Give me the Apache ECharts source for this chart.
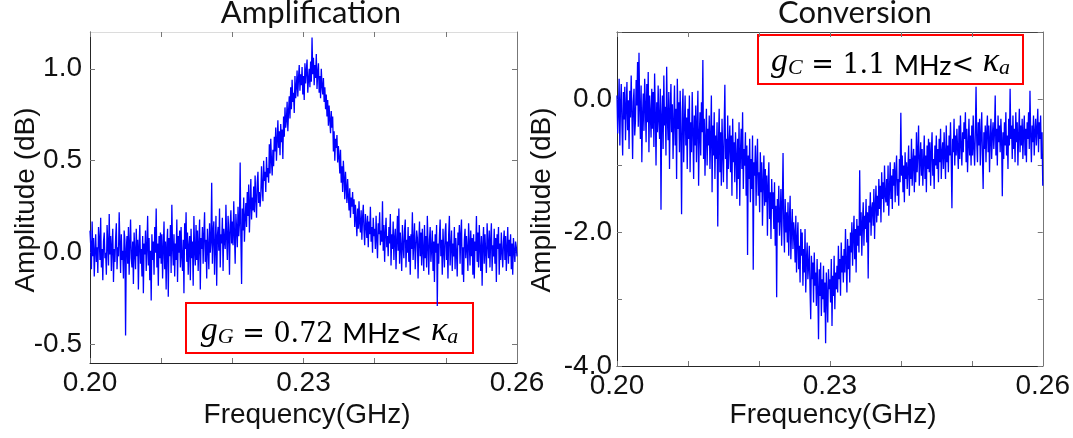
<!DOCTYPE html>
<html>
<head>
<meta charset="utf-8">
<title>Amplification and Conversion spectra</title>
<script src="https://cdn.jsdelivr.net/npm/echarts@6/dist/echarts.min.js"></script>
<style>
  html, body { margin: 0; padding: 0; background: #ffffff; }
  #chart { width: 1073px; height: 438px; }
</style>
</head>
<body>
<div id="chart"></div>
<script>
// Frequency sampling grid (GHz)
const FREQ_START = 0.200;
const FREQ_STEP = 0.0001;

// Tick labels
const freqTickLabels = [0.20, 0.23, 0.26];
const ampTickLabels = [-0.5, 0.0, 0.5, 1.0];
const convTickLabels = [-4, -2, 0];

// Amplification response (dB), ten samples per MHz
const amplification = [
  0.12, 0.04, -0.09, 0.17, -0.02, 0.08, -0.13, 0.01, 0.1, -0.05,
  0.03, -0.11, 0.14, 0.07, -0.04, 0.19, -0.08, 0.02, -0.15, 0.06,
  0.11, -0.03, 0.0, -0.12, 0.15, 0.05, -0.07, 0.21, -0.01, 0.09,
  -0.1, 0.04, 0.13, -0.16, 0.02, -0.05, 0.08, 0.16, -0.09, 0.03,
  -0.02, 0.22, 0.06, -0.11, 0.1, -0.04, 0.01, -0.14, 0.12, 0.07,
  -0.45, 0.02, 0.09, -0.06, 0.14, -0.12, 0.05, 0.18, -0.03, -0.08,
  0.06, -0.17, 0.11, 0.0, -0.09, 0.13, -0.02, 0.07, -0.2, 0.04,
  0.15, -0.06, 0.02, -0.13, 0.09, -0.22, 0.05, -0.01, 0.12, -0.1,
  0.03, 0.2, -0.07, 0.08, -0.15, 0.01, -0.26, 0.1, -0.04, 0.06,
  -0.12, 0.14, 0.0, 0.24, -0.08, 0.05, -0.18, 0.09, -0.03, 0.11,
  -0.06, 0.1, -0.14, 0.02, 0.17, -0.09, 0.06, -0.2, 0.04, 0.13,
  -0.24, 0.08, -0.02, 0.15, -0.11, 0.26, 0.03, -0.07, 0.1, -0.13,
  0.05, -0.04, 0.18, -0.16, 0.09, 0.0, 0.12, -0.08, 0.14, -0.02,
  -0.1, 0.07, -0.22, 0.16, 0.02, 0.22, -0.05, 0.11, -0.12, 0.04,
  0.09, -0.15, 0.13, -0.03, 0.06, -0.18, 0.2, 0.01, -0.07, 0.15,
  -0.04, 0.12, -0.1, 0.05, 0.18, -0.2, 0.08, 0.02, 0.14, -0.06,
  0.1, 0.22, -0.05, 0.07, -0.14, 0.13, 0.03, -0.09, 0.16, 0.0,
  0.06, 0.38, -0.06, 0.11, 0.17, -0.12, 0.04, 0.2, -0.18, 0.09,
  0.14, 0.01, 0.24, -0.08, 0.1, 0.05, 0.19, -0.1, 0.13, 0.07,
  0.02, 0.26, 0.08, -0.04, 0.2, 0.11, -0.12, 0.15, 0.23, 0.05,
  0.17, 0.04, 0.28, 0.1, -0.06, 0.21, 0.13, 0.03, 0.25, 0.09,
  0.16, 0.49, 0.08, -0.17, 0.24, 0.12, 0.3, 0.06, 0.19, 0.27,
  0.14, 0.33, 0.2, 0.37, 0.11, 0.26, 0.4, 0.18, 0.3, 0.23,
  0.36, 0.22, 0.42, 0.29, 0.19, 0.38, 0.44, 0.27, 0.33, 0.25,
  0.31, 0.47, 0.36, 0.28, 0.5, 0.39, 0.44, 0.33, 0.52, 0.41,
  0.46, 0.38, 0.59, 0.43, 0.62, 0.5, 0.42, 0.56, 0.47, 0.63,
  0.55, 0.68, 0.5, 0.61, 0.72, 0.57, 0.66, 0.53, 0.7, 0.6,
  0.67, 0.51, 0.74, 0.63, 0.79, 0.68, 0.72, 0.82, 0.66, 0.77,
  0.85, 0.73, 0.9, 0.78, 0.94, 0.82, 0.87, 0.76, 0.96, 0.84,
  0.9, 0.99, 0.85, 0.95, 1.02, 0.88, 0.97, 0.91, 1.01, 0.86,
  0.96, 0.83, 1.03, 0.92, 0.99, 1.05, 0.87, 0.94, 1.0, 0.9,
  1.04, 0.93, 1.17, 0.97, 1.06, 0.91, 1.02, 0.95, 1.08, 0.89,
  0.98, 1.03, 0.87, 0.96, 0.84, 1.0, 0.91, 0.86, 0.95, 0.82,
  0.9, 0.78, 0.86, 0.74, 0.83, 0.69, 0.8, 0.72, 0.65, 0.77,
  0.68, 0.74, 0.55, 0.66, 0.5, 0.62, 0.57, 0.64, 0.49, 0.58,
  0.52, 0.43, 0.56, 0.38, 0.47, 0.33, 0.5, 0.41, 0.29, 0.44,
  0.36, 0.27, 0.4, 0.31, 0.23, 0.35, 0.19, 0.3, 0.25, 0.33,
  0.21, 0.29, 0.14, 0.26, 0.18, 0.09, 0.24, 0.13, 0.28, 0.16,
  0.11, 0.23, 0.07, 0.19, 0.26, 0.12, 0.04, 0.21, 0.15, 0.08,
  0.2, 0.03, 0.17, 0.1, 0.25, 0.06, 0.14, 0.0, 0.19, 0.09,
  0.13, 0.02, 0.2, 0.07, -0.03, 0.16, 0.1, 0.22, 0.04, 0.12,
  0.06, 0.28, 0.01, 0.15, -0.05, 0.11, 0.19, 0.03, 0.09, -0.02,
  0.14, 0.05, 0.21, -0.07, 0.1, 0.02, 0.17, -0.04, 0.08, 0.13,
  -0.09, 0.06, 0.2, 0.01, 0.24, -0.06, 0.11, 0.03, -0.1, 0.15,
  0.04, -0.03, 0.12, 0.18, -0.08, 0.07, 0.0, 0.14, -0.05, 0.09,
  -0.12, 0.1, 0.02, 0.22, -0.04, 0.06, 0.16, -0.09, 0.03, 0.12,
  0.08, -0.14, 0.05, 0.17, -0.02, 0.11, -0.07, 0.13, 0.01, -0.1,
  0.15, -0.03, 0.09, -0.08, 0.2, 0.04, -0.12, 0.07, 0.14, -0.05,
  0.02, 0.12, -0.1, 0.06, -0.16, 0.1, 0.0, 0.15, -0.29, 0.05,
  -0.06, 0.09, 0.18, -0.02, 0.07, -0.12, 0.13, 0.01, -0.08, 0.11,
  0.16, -0.04, 0.06, -0.14, 0.1, 0.2, -0.07, 0.03, 0.12, -0.1,
  0.05, -0.02, 0.14, -0.09, 0.08, 0.0, -0.13, 0.11, 0.04, 0.15,
  -0.06, 0.1, 0.18, -0.12, 0.03, -0.16, 0.07, 0.13, -0.03, 0.09,
  0.02, -0.1, 0.16, 0.05, -0.07, 0.12, -0.02, 0.08, -0.12, 0.1,
  -0.14, 0.06, 0.01, 0.2, -0.05, 0.11, -0.08, 0.15, 0.03, -0.1,
  0.09, -0.18, 0.04, 0.14, -0.06, 0.1, 0.0, -0.11, 0.16, 0.05,
  -0.03, 0.12, -0.08, 0.07, 0.16, -0.1, 0.04, -0.02, 0.13, -0.06,
  0.08, -0.16, 0.1, 0.02, 0.14, -0.12, 0.05, -0.04, 0.11, 0.0,
  -0.08, 0.06, 0.12, -0.04, 0.09, -0.1, 0.03, 0.14, -0.06, 0.07,
  -0.02, 0.1, -0.09, 0.05, -0.12, 0.08, 0.01, -0.05, 0.06, 0.03,
  -0.02
];

// Conversion response (dB), ten samples per MHz
const conversion = [
  0.05, -0.52, -0.18, 0.3, -0.7, -0.08, 0.22, -0.4, -0.85, 0.1,
  -0.31, 0.18, -0.62, -0.12, 0.25, -0.47, -0.02, -0.75, 0.12, -0.28,
  0.35, -0.2, -0.9, -0.05, 0.15, -0.55, -0.33, 0.28, -0.1, 0.55,
  -0.42, 0.69, -0.15, -0.6, 0.2, -0.95, -0.25, 0.08, -0.48, 0.3,
  -0.1, -0.65, 0.22, -0.35, 0.4, -0.8, 0.05, -0.22, -0.58, 0.15,
  -0.45, 0.1, -0.72, 0.38, -0.2, -1.0, -0.05, -0.5, 0.2, -0.32,
  -0.6, 0.15, -1.66, -0.25, 0.05, -0.75, 0.35, -0.4, -0.12, -0.85,
  0.48, -0.3, -0.62, 0.1, -1.05, -0.18, 0.22, -0.5, -0.08, -0.9,
  -0.35, 0.2, -0.7, -0.15, -1.2, 0.3, -0.45, -0.05, -0.8, 0.12,
  -0.55, -1.73, -0.2, 0.15, -0.95, -0.4, 0.05, -0.7, -0.28, -1.05,
  -0.15, -0.6, 0.05, -1.1, -0.35, -0.8, 0.1, -0.48, -1.2, -0.25,
  -0.7, -0.1, -0.95, -0.4, 0.12, -1.3, -0.55, -0.2, -0.85, -0.05,
  -0.5, 0.58, -0.9, -0.3, -1.15, -0.6, -0.15, -1.0, -0.45, -0.7,
  -0.25, -1.05, -0.6, 0.05, -1.4, -0.4, -0.85, -0.2, -1.2, -0.55,
  -0.9, -0.35, -1.91, -0.65, -0.15, -1.1, -0.5, -1.3, -0.3, -0.8,
  -1.25, -0.45, 0.21, -0.9, -0.6, -1.35, -0.25, -1.05, -0.7, -0.4,
  -1.1, -0.55, -1.45, -0.3, -0.95, -0.65, -1.25, -0.5, -0.85, -1.5,
  -0.6, -1.2, -0.35, -1.6, -0.8, -0.45, -1.05, -0.2, -1.35, -0.75,
  -1.0, -0.5, -1.45, -0.7, -2.34, -0.85, -1.2, -0.6, -1.55, -0.9,
  -1.35, -0.55, -2.56, -0.95, -1.15, -0.7, -1.6, -1.0, -0.6, -1.45,
  -1.1, -1.7, -0.8, -1.4, -0.95, -1.9, -1.25, -0.85, -1.6, -1.05,
  -1.55, -1.15, -2.05, -1.3, -0.95, -1.8, -1.4, -2.1, -1.2, -1.65,
  -1.4, -1.95, -1.25, -2.2, -1.6, -2.97, -1.5, -1.85, -1.3, -2.05,
  -1.75, -1.35, -2.2, -1.6, -0.81, -1.9, -2.3, -1.5, -2.0, -1.7,
  -2.15, -1.55, -2.35, -1.8, -1.45, -2.4, -1.95, -1.65, -2.25, -1.85,
  -2.0, -2.45, -1.75, -2.6, -2.1, -1.85, -2.55, -2.2, -2.75, -1.95,
  -2.35, -2.0, -2.8, -2.25, -2.6, -1.95, -2.9, -2.4, -2.15, -2.7,
  -2.5, -2.2, -2.85, -3.3, -2.35, -2.7, -2.45, -3.05, -2.3, -2.8,
  -2.6, -3.1, -2.4, -2.85, -3.6, -2.55, -2.95, -2.45, -3.25, -2.7,
  -3.0, -2.5, -3.2, -2.75, -3.66, -2.6, -2.95, -3.35, -2.55, -2.85,
  -2.7, -3.05, -2.4, -3.4, -2.65, -2.95, -2.35, -3.15, -2.6, -2.85,
  -2.5, -2.9, -2.2, -2.7, -2.4, -2.95, -2.15, -2.6, -2.35, -2.75,
  -2.25, -2.6, -1.95, -2.45, -2.9, -2.1, -2.55, -2.2, -2.75, -2.0,
  -2.3, -1.85, -2.5, -2.05, -1.75, -2.4, -1.95, -2.6, -1.8, -2.2,
  -1.9, -2.3, -1.07, -2.05, -1.7, -2.35, -1.85, -1.55, -2.2, -1.75,
  -1.95, -1.5, -2.15, -1.7, -2.69, -1.6, -1.85, -1.4, -2.05, -1.65,
  -1.55, -1.9, -1.35, -2.1, -1.6, -1.3, -1.85, -1.45, -1.75, -1.2,
  -1.65, -1.3, -1.85, -1.1, -1.5, -1.25, -1.7, -1.0, -1.45, -1.55,
  -1.2, -1.6, -1.0, -1.75, -1.35, -0.95, -1.5, -1.15, -1.65, -1.05,
  -1.3, -0.95, -1.55, -1.1, -0.85, -1.45, -1.2, -1.6, -0.9, -1.25,
  -0.21, -1.15, -0.85, -1.4, -1.0, -1.55, -0.8, -1.2, -0.95, -1.35,
  -1.05, -0.7, -1.45, -0.9, -1.2, -0.6, -1.3, -0.95, -0.75, -1.4,
  -0.85, -1.25, -0.5, -1.1, -0.8, -0.4, -1.3, -0.95, -0.65, -1.15,
  -0.75, -1.3, -0.95, -0.55, -1.2, -0.85, -1.4, -0.7, -1.05, -0.6,
  -1.1, -0.65, -1.3, -0.8, -0.5, -1.15, -0.9, -1.35, -0.7, -1.0,
  -0.55, -1.05, -0.75, -1.25, -0.6, -0.95, -0.45, -1.2, -0.8, -0.65,
  -1.05, -0.5, -0.85, -1.2, -0.4, -0.95, -0.7, -1.1, -0.55, -0.85,
  -0.35, -0.9, -1.64, -0.6, -0.8, -0.3, -1.0, -0.55, -0.85, -0.45,
  -0.75, -1.05, -0.4, -0.9, -0.25, -0.7, -1.0, -0.5, -0.8, -0.35,
  -0.6, -0.2, -0.95, -0.45, -1.1, -0.7, -0.3, -0.85, -0.55, -1.0,
  -0.4, -0.85, -0.25, -0.75, -1.0, -0.5, 0.18, -0.65, -0.95, -0.35,
  -0.7, -0.3, -1.0, -0.55, -0.2, -0.85, -1.35, -0.5, -0.75, -0.4,
  -0.95, -0.5, -0.25, -0.8, -0.4, -1.1, -0.6, -0.3, -0.9, -0.55,
  -0.35, -0.75, -0.5, 0.05, -0.85, -0.45, -1.0, -0.25, -0.65, -0.4,
  -0.8, -0.3, -0.6, -1.46, -0.5, -0.9, -0.35, -0.7, -0.2, -0.85,
  -0.55, -1.05, -0.3, -0.7, 0.15, -0.6, -0.4, -0.9, -0.25, -0.75,
  -0.45, -0.95, -0.2, -0.65, -0.35, -1.0, -0.55, -0.15, -0.8, -0.4,
  -0.7, -0.3, -0.9, -0.5, -0.25, -0.85, -0.45, -0.95, -0.35, -0.6,
  -0.2, -0.75, 0.12, -0.55, -0.95, -0.4, -0.65, -0.25, -0.85, -0.5,
  -0.3, -0.7, -0.45, -0.15, -0.8, -0.35, -0.6, -0.25, -0.9, -0.5,
  -1.3
];

const toPairs = values => values.map((v, i) => [+(FREQ_START + i * FREQ_STEP).toFixed(5), v]);

const TICK_FONT = "'Liberation Sans', Arial, sans-serif";
const near = (a, b) => Math.abs(a - b) < 1e-6;

function freqAxes(gridIndex, topLineColor) {
  const common = {
    type: 'value', gridIndex, min: 0.20, max: 0.26, interval: 0.01,
    splitLine: { show: false },
    axisTick: { show: true, inside: true, length: 5, lineStyle: { color: '#777', width: 1 } }
  };
  return [
    Object.assign({}, common, {
      position: 'bottom',
      axisLine: { show: true, onZero: false, lineStyle: { color: '#262626', width: 1 } },
      axisLabel: {
        show: true, margin: 6, color: '#111', fontSize: 28, fontFamily: TICK_FONT,
        showMinLabel: true, showMaxLabel: true, hideOverlap: false,
        formatter: v => freqTickLabels.some(t => near(t, v)) ? v.toFixed(2) : ''
      }
    }),
    Object.assign({}, common, {
      position: 'top',
      axisLine: { show: true, onZero: false, lineStyle: { color: topLineColor, width: 1 } },
      axisLabel: { show: false }
    })
  ];
}

const chart = echarts.init(document.getElementById('chart'), null, { renderer: 'canvas' });

const grids = [
  { left: 90, top: 32, width: 427, height: 331 },
  { left: 617, top: 32, width: 428, height: 334 }
];

const ampTick = { show: true, inside: true, length: 5, lineStyle: { color: '#777', width: 1 }, customValues: ampTickLabels };

const yAxes = [
  {
    type: 'value', gridIndex: 0, position: 'left', min: -0.6, max: 1.2,
    splitLine: { show: false },
    axisLine: { show: true, onZero: false, lineStyle: { color: '#262626', width: 1 } },
    axisTick: ampTick,
    axisLabel: {
      show: true, margin: 8, color: '#111', fontSize: 28, fontFamily: TICK_FONT,
      customValues: ampTickLabels, formatter: v => v.toFixed(1)
    }
  },
  {
    type: 'value', gridIndex: 0, position: 'right', min: -0.6, max: 1.2,
    splitLine: { show: false },
    axisLine: { show: true, onZero: false, lineStyle: { color: '#777', width: 1 } },
    axisTick: ampTick,
    axisLabel: { show: false }
  },
  {
    type: 'value', gridIndex: 1, position: 'left', min: -4, max: 1, interval: 1,
    splitLine: { show: false },
    axisLine: { show: true, onZero: false, lineStyle: { color: '#262626', width: 1 } },
    axisTick: { show: true, inside: true, length: 5, lineStyle: { color: '#777', width: 1 } },
    axisLabel: {
      show: true, margin: 5, color: '#111', fontSize: 28, fontFamily: TICK_FONT,
      showMinLabel: true, showMaxLabel: true,
      formatter: v => convTickLabels.some(t => near(t, v)) ? v.toFixed(1) : ''
    }
  },
  {
    type: 'value', gridIndex: 1, position: 'right', min: -4, max: 1, interval: 1,
    splitLine: { show: false },
    axisLine: { show: true, onZero: false, lineStyle: { color: '#777', width: 1 } },
    axisTick: { show: true, inside: true, length: 5, lineStyle: { color: '#777', width: 1 } },
    axisLabel: { show: false }
  }
];

const xAxes = freqAxes(0, '#dcdcdc').concat(freqAxes(1, '#444'));

const lineSeries = (data, xi, yi) => ({
  type: 'line', data: toPairs(data), xAxisIndex: xi, yAxisIndex: yi,
  showSymbol: false, symbol: 'none', sampling: null, animation: false,
  lineStyle: { color: '#0000ff', width: 1.3 }, z: 2
});

const mathRich = {
  it: { fontFamily: 'Liberation Serif', fontStyle: 'italic', fontSize: 34, lineHeight: 38, verticalAlign: 'bottom', color: '#111' },
  sub: { fontFamily: 'Liberation Serif', fontStyle: 'italic', fontSize: 22, lineHeight: 21, verticalAlign: 'bottom', color: '#111' },
  rm: { fontFamily: 'DejaVu Serif', fontSize: 27, lineHeight: 38, verticalAlign: 'bottom', color: '#111' },
  sf: { fontFamily: 'Lato', fontSize: 27, lineHeight: 38, verticalAlign: 'bottom', color: '#111' }
};

function noteBox(x, y, w, h, text) {
  return {
    type: 'group', x, y, z: 10,
    children: [
      { type: 'rect', shape: { x: 0, y: 0, width: w, height: h },
        style: { fill: '#ffffff', stroke: '#ff0000', lineWidth: 2 } },
      { type: 'text', x: w / 2, y: h / 2 + 1,
        style: { text, rich: mathRich, align: 'center', verticalAlign: 'middle' } }
    ]
  };
}

const titleFont = { fontFamily: 'Lato', fontSize: 31, fill: '#111' };
const nameFont = { fontFamily: TICK_FONT, fontSize: 28, fill: '#111' };

chart.setOption({
  animation: false,
  backgroundColor: '#ffffff',
  grid: grids,
  xAxis: xAxes,
  yAxis: yAxes,
  series: [
    lineSeries(amplification, 0, 0),
    lineSeries(conversion, 2, 2)
  ],
  graphic: [
    { type: 'text', x: 311, y: 13, style: Object.assign({ text: 'Amplification', align: 'center', verticalAlign: 'middle' }, titleFont) },
    { type: 'text', x: 855, y: 13, style: Object.assign({ text: 'Conversion', align: 'center', verticalAlign: 'middle' }, titleFont) },
    { type: 'text', x: 307, y: 415, style: Object.assign({ text: 'Frequency(GHz)', align: 'center', verticalAlign: 'middle' }, nameFont) },
    { type: 'text', x: 833, y: 415, style: Object.assign({ text: 'Frequency(GHz)', align: 'center', verticalAlign: 'middle' }, nameFont) },
    { type: 'text', x: 26, y: 200, rotation: Math.PI / 2, style: Object.assign({ text: 'Amplitude (dB)', align: 'center', verticalAlign: 'middle' }, nameFont) },
    { type: 'text', x: 542, y: 200, rotation: Math.PI / 2, style: Object.assign({ text: 'Amplitude (dB)', align: 'center', verticalAlign: 'middle' }, nameFont) },
    noteBox(186, 303, 287, 50, '{it|g}{sub|G}{rm| = 0.72 }{sf|MHz}{rm|< }{it|κ}{sub|a}'),
    noteBox(758, 35, 265, 49, '{it|g}{sub|C}{rm| = 1.1 }{sf|MHz}{rm|< }{it|κ}{sub|a}')
  ]
});
</script>
</body>
</html>
